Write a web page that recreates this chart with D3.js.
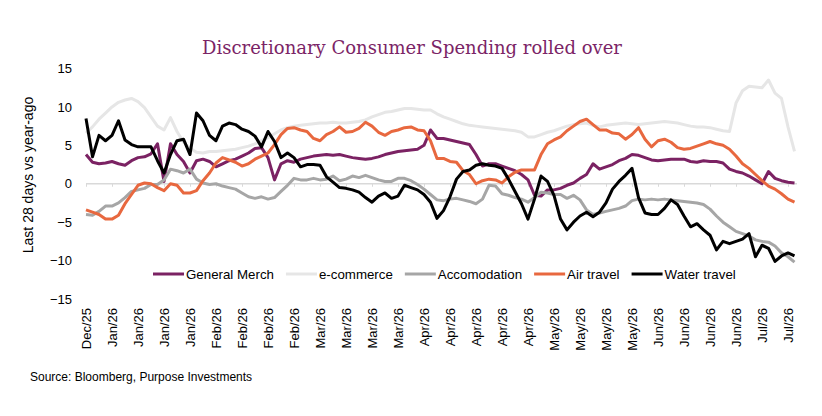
<!DOCTYPE html>
<html>
<head>
<meta charset="utf-8">
<script src="https://cdn.jsdelivr.net/npm/d3@7"></script>
<style>
  body { margin: 0; background: #fff; }
  svg { display: block; }
</style>
</head>
<body>
<div id="chart"></div>
<script>
const w = 822;
const h = 416;

// x tick labels, one every 4 observations
const xLabels = ["Dec/25","Jan/26","Jan/26","Jan/26","Jan/26","Feb/26","Feb/26","Feb/26","Feb/26",
  "Mar/26","Mar/26","Mar/26","Mar/26","Apr/26","Apr/26","Apr/26","Apr/26","Apr/26",
  "May/26","May/26","May/26","May/26","Jun/26","Jun/26","Jun/26","Jun/26","Jul/26","Jul/26"];
const yTicks = [15, 10, 5, 0, -5, -10, -15];

const seriesNames = ["General Merch", "e-commerce", "Accomodation", "Air travel", "Water travel"];
const colors = ["#7b2263", "#e6e6e6", "#a6a6a6", "#e8683f", "#000000"];

const generalMerch = [3.8,2.8,2.6,2.7,2.9,2.6,2.4,3.0,3.4,3.5,3.9,5.2,0.3,5.2,3.8,2.9,1.4,3.0,3.2,2.9,
  2.2,2.6,3.0,3.2,3.6,4.0,4.6,4.7,3.4,0.5,2.6,3.0,2.8,3.2,3.4,3.6,3.7,3.8,3.7,3.8,
  3.6,3.4,3.3,3.2,3.3,3.5,3.8,4.0,4.2,4.3,4.4,4.5,5.0,7.0,5.9,5.9,5.7,5.5,5.3,5.1,
  3.8,2.3,2.6,2.6,2.3,2.0,1.7,1.2,0.5,-1.5,-1.6,-0.8,-0.8,-0.6,-0.2,0.1,0.7,1.2,2.6,1.9,
  2.2,2.5,3.0,3.3,3.8,3.7,3.4,3.1,3.0,3.1,3.2,3.2,3.2,2.9,2.8,3.0,2.9,2.9,2.7,1.9,
  1.6,1.4,1.0,0.5,0.0,1.6,0.7,0.4,0.2,0.1];
const eCommerce = [6.6,7.4,8.4,9.2,10.0,10.6,10.9,11.1,10.7,9.9,8.7,7.5,7.0,8.6,6.8,5.4,4.6,4.1,4.0,4.2,
  4.2,4.3,4.4,4.5,4.7,4.9,5.2,5.6,6.0,6.5,7.0,7.3,7.5,7.6,7.7,7.8,7.9,7.9,8.0,7.9,
  7.9,8.0,8.1,8.3,8.7,9.0,9.3,9.4,9.6,9.8,9.8,9.7,9.6,9.6,9.1,8.7,8.4,8.1,7.8,7.6,
  7.5,7.4,7.3,7.2,7.1,7.0,6.9,6.7,6.1,6.1,6.4,6.7,6.9,7.2,7.5,7.7,7.8,7.9,7.6,7.4,
  7.6,7.7,7.8,7.9,7.8,7.7,7.8,7.9,8.0,8.1,8.0,7.9,7.7,7.5,7.4,7.4,7.3,7.1,6.9,6.8,
  10.5,12.1,12.7,12.6,12.5,13.5,11.8,11.1,7.4,4.2];
const accomodation = [-4.0,-4.1,-3.6,-2.9,-2.9,-2.5,-1.8,-1.0,-0.8,-0.6,-0.1,-0.1,0.5,1.9,1.7,1.4,1.9,0.6,0.1,-0.1,
  0.0,-0.3,-0.5,-0.7,-1.2,-1.7,-1.9,-1.7,-2.0,-1.8,-1.0,-0.2,0.7,0.5,0.5,0.7,0.5,0.6,1.0,0.4,
  0.6,1.0,0.8,1.1,0.8,0.5,0.3,0.3,0.7,0.7,0.4,-0.1,-0.7,-1.4,-2.1,-2.2,-2.0,-1.9,-2.1,-2.3,
  -2.6,-2.0,-0.2,-0.3,-1.3,-1.5,-1.8,-2.0,-2.4,-1.8,-1.1,-1.2,-1.4,-1.4,-1.9,-1.5,-2.1,-3.4,-4.0,-3.8,
  -3.6,-3.4,-3.2,-2.9,-2.2,-2.0,-2.1,-2.0,-2.1,-2.0,-2.1,-2.2,-2.3,-2.4,-2.5,-2.7,-3.3,-4.2,-5.0,-5.6,
  -6.2,-6.5,-6.8,-7.3,-7.5,-7.6,-8.1,-9.0,-9.5,-10.2];
const airTravel = [-3.4,-3.7,-4.0,-4.6,-4.6,-4.1,-2.6,-1.4,-0.2,0.1,0.0,-0.5,-0.9,0.0,-0.2,-1.2,-1.2,-0.9,0.4,1.4,
  2.7,3.4,3.1,2.8,2.3,2.6,3.2,3.6,4.0,5.1,6.4,7.2,7.3,7.0,6.8,5.9,5.6,6.4,6.8,7.4,
  6.7,6.8,7.2,8.0,7.5,6.7,6.3,6.8,7.0,7.3,7.4,7.0,6.9,5.6,3.3,3.3,2.9,2.8,1.7,1.2,
  0.0,0.4,0.6,0.5,0.1,0.9,1.5,1.8,1.8,1.8,3.8,5.2,5.7,6.1,6.9,7.5,8.1,8.4,7.7,7.0,
  7.0,6.6,6.5,5.8,6.4,7.3,5.8,4.8,5.6,5.8,5.4,4.7,4.5,4.6,4.9,5.2,5.5,5.2,5.0,4.5,
  3.6,2.6,2.0,1.2,0.4,-0.3,-0.7,-1.3,-2.0,-2.4];
const waterTravel = [8.5,3.5,6.3,5.6,6.3,8.2,5.7,5.1,4.8,4.8,4.8,3.0,1.4,3.8,5.6,5.8,3.8,9.2,8.2,6.3,
  5.6,7.5,7.9,7.7,7.1,6.8,6.2,4.8,6.8,5.5,3.4,4.0,3.4,2.2,2.5,2.5,2.4,0.9,0.2,-0.5,
  -0.6,-0.8,-1.1,-1.8,-2.4,-1.6,-1.2,-1.9,-1.6,-0.2,-0.5,-0.8,-1.4,-2.4,-4.5,-3.5,-1.7,0.6,1.6,1.8,
  2.4,2.6,2.4,2.3,2.0,0.6,-1.0,-2.6,-4.6,-2.0,1.0,0.3,-1.5,-4.6,-6.0,-5.0,-4.2,-3.7,-4.3,-3.7,
  -2.5,-0.7,0.3,1.1,2.0,-1.8,-3.8,-4.0,-4.0,-3.2,-2.1,-2.7,-4.2,-5.6,-5.2,-6.0,-6.7,-8.6,-7.5,-7.8,
  -7.5,-7.2,-6.5,-9.5,-8.0,-8.4,-10.1,-9.4,-9.0,-9.4];

const series = [generalMerch, eCommerce, accomodation, airTravel, waterTravel];

const svg = d3.select("#chart")
  .append("svg")
  .attr("width", w)
  .attr("height", h);

//Scales
const x = d3.scaleLinear().domain([0, generalMerch.length - 1]).range([86, 794.5]);
const y = d3.scaleLinear().domain([-15, 15]).range([299, 68.5]);
const labelIdx = xLabels.map((d, i) => i * 4);

//Title
svg.append("text")
  .attr("x", 412)
  .attr("y", 54)
  .attr("text-anchor", "middle")
  .attr("fill", "#7b2466")
  .style("font-family", "'DejaVu Serif', serif")
  .style("font-size", "18px")
  .text("Discretionary Consumer Spending rolled over");

//Y axis, labels only
const yAxis = d3.axisLeft(y).tickValues(yTicks).tickSize(0).tickPadding(0);
svg.append("g")
  .attr("transform", "translate(72,0)")
  .call(yAxis)
  .call(g => g.select(".domain").remove())
  .selectAll("text")
  .style("font-family", "'Liberation Sans', Arial, sans-serif")
  .style("font-size", "13px")
  .attr("fill", "#000");

svg.append("text")
  .attr("transform", "translate(33,175) rotate(-90)")
  .attr("text-anchor", "middle")
  .style("font-family", "'Liberation Sans', Arial, sans-serif")
  .style("font-size", "14px")
  .text("Last 28 days vs year-ago");

//X axis sits on zero, labels dropped to the bottom
const y0 = y(0);
const xAxis = d3.axisBottom(x)
  .tickValues(labelIdx)
  .tickFormat((d, i) => xLabels[i])
  .tickSize(3)
  .tickSizeOuter(0);
const xg = svg.append("g")
  .attr("transform", `translate(0,${y0})`)
  .call(xAxis);
xg.select(".domain").attr("stroke", "#d9d9d9").attr("stroke-width", 1.5)
  .attr("d", `M${x(0)},0H797`);
xg.selectAll(".tick line").attr("stroke", "#d9d9d9");
xg.selectAll(".tick text")
  .attr("x", 0)
  .attr("y", 0)
  .attr("dy", "0.35em")
  .attr("transform", `translate(0,${308 - y0}) rotate(-90)`)
  .attr("text-anchor", "end")
  .attr("fill", "#000")
  .style("font-family", "'Liberation Sans', Arial, sans-serif")
  .style("font-size", "13px");

//Lines
const line = d3.line().x((d, i) => x(i)).y(d => y(d));
svg.append("g").selectAll("path")
  .data(series)
  .enter()
  .append("path")
  .attr("d", line)
  .attr("fill", "none")
  .attr("stroke", (d, i) => colors[i])
  .attr("stroke-width", 3)
  .attr("stroke-linejoin", "round");

//Legend
const legend = svg.append("g").attr("id", "legend");
const legY = 274;
const lineLen = 31;
const itemGap = 12;
let legX = 153;
seriesNames.forEach((name, i) => {
  legend.append("line")
    .attr("x1", legX).attr("x2", legX + lineLen)
    .attr("y1", legY).attr("y2", legY)
    .attr("stroke", colors[i])
    .attr("stroke-width", 3);
  const t = legend.append("text")
    .attr("x", legX + lineLen + 2)
    .attr("y", legY)
    .attr("dy", "0.35em")
    .style("font-family", "'Liberation Sans', Arial, sans-serif")
    .style("font-size", "13.3px")
    .text(name);
  legX += lineLen + 2 + t.node().getComputedTextLength() + itemGap;
});

//Source
svg.append("text")
  .attr("x", 30)
  .attr("y", 381)
  .style("font-family", "'Liberation Sans', Arial, sans-serif")
  .style("font-size", "12px")
  .text("Source: Bloomberg, Purpose Investments");
</script>
</body>
</html>
